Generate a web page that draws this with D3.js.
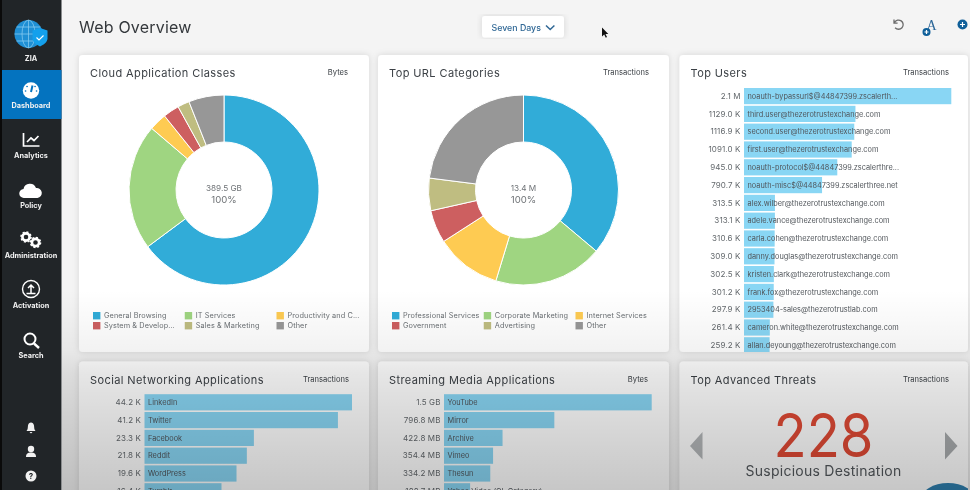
<!DOCTYPE html>
<html><head><meta charset="utf-8">
<script src="https://cdn.jsdelivr.net/npm/d3@7/dist/d3.min.js"></script>
<style>html,body{margin:0;padding:0;background:#f4f4f4;overflow:hidden}svg{display:block;font-family:Inter,"Open Sans",sans-serif;filter:blur(.4px)}</style>
</head><body><svg id="c" width="970" height="490"></svg>
<script>
// ---- data ----
const navItems = ["ZIA","Dashboard","Analytics","Policy","Administration","Activation","Search"];
const donutColors = ["#31acd8","#9fd581","#fecb52","#cd5f60","#bfbd81","#979797"];

const classNames = ["General Browsing","IT Services","Productivity and C...","System & Develop...","Sales & Marketing","Other"];
const classValues = [252.4,83.4,11.7,10.7,7.8,23.4];
const urlNames = ["Professional Services","Corporate Marketing","Internet Services","Government","Advertising","Other"];
const urlValues = [4.84,2.49,1.50,0.75,0.74,3.08];

const userNames = ["noauth-bypassurl$@44847399.zscalerth...","third.user@thezerotrustexchange.com","second.user@thezerotrustexchange.com","first.user@thezerotrustexchange.com","noauth-protocol$@44847399.zscalerthre...","noauth-misc$@44847399.zscalerthree.net","alex.wilber@thezerotrustexchange.com","adele.vance@thezerotrustexchange.com","carla.cohen@thezerotrustexchange.com","danny.douglas@thezerotrustexchange.com","kristen.clark@thezerotrustexchange.com","frank.fox@thezerotrustexchange.com","2953404-sales@thezerotrustlab.com","cameron.white@thezerotrustexchange.com","allan.deyoung@thezerotrustexchange.com"];
const userValues = [2100,1129,1116.9,1091,945,790.7,313.5,313.1,310.6,309,302.5,301.2,297.9,261.4,259.2];
const userLabels = ["2.1 M","1129.0 K","1116.9 K","1091.0 K","945.0 K","790.7 K","313.5 K","313.1 K","310.6 K","309.0 K","302.5 K","301.2 K","297.9 K","261.4 K","259.2 K"];

const socialNames = ["LinkedIn","Twitter","Facebook","Reddit","WordPress","Tumblr"];
const socialValues = [44.2,41.2,23.3,21.8,19.6,16.4];
const socialLabels = ["44.2 K","41.2 K","23.3 K","21.8 K","19.6 K","16.4 K"];

const streamNames = ["YouTube","Mirror","Archive","Vimeo","Thesun","Yahoo Video (GL Category)"];
const streamValues = [1500,796.8,422.8,354.4,334.2,188.7];
const streamLabels = ["1.5 GB","796.8 MB","422.8 MB","354.4 MB","334.2 MB","188.7 MB"];

// ---- setup ----
const svg = d3.select("#c");
const defs = svg.append("defs");
const sh = defs.append("filter").attr("id","sh").attr("x","-5%").attr("y","-5%").attr("width","110%").attr("height","110%");
sh.append("feDropShadow").attr("dx",0).attr("dy",0).attr("stdDeviation",3).attr("flood-color","#000").attr("flood-opacity",.13);
const fade = defs.append("linearGradient").attr("id","fade").attr("x1",0).attr("x2",0).attr("y1",0).attr("y2",1);
[[0,0],[.3,.05],[.42,.1],[.6,.14],[.8,.18],[1,.22]].forEach(([o,a])=>fade.append("stop").attr("offset",o).attr("stop-color","#000").attr("stop-opacity",a));

svg.append("rect").attr("width",970).attr("height",490).attr("fill","#f4f4f4");

function t(g,x,y,s,size,fill,anchor,extra){
  const e = g.append("text").attr("x",x).attr("y",y).attr("font-size",size).attr("fill",fill).attr("text-anchor",anchor||"start").text(s);
  if(extra) Object.entries(extra).forEach(([k,v])=>e.attr(k,v));
  return e;
}

t(svg,79,33,"Web Overview",16,"#34383c","start",{"letter-spacing":".2"});

// time selector
svg.append("rect").attr("x",482).attr("y",16).attr("width",82).attr("height",21.5).attr("rx",3).attr("fill","#fff").attr("filter","url(#sh)");
t(svg,491.5,31,"Seven Days",8.8,"#2f6795","start",{"font-weight":500});
svg.append("path").attr("d","M546 25.5l4.2 4 4.2-4").attr("fill","none").attr("stroke","#2f6795").attr("stroke-width",1.5);
// cursor
svg.append("path").attr("d","M602 27.5v9l2.2-2 1.6 3.2 1.2-.6-1.5-3.2h2.8z").attr("fill","#111");
// top right icons
svg.append("path").attr("d","M894.5 22.5a4.6 4.6 0 1 1 .6 5.2M894 19.6v3.6h3.6").attr("fill","none").attr("stroke","#6b6b6b").attr("stroke-width",1.3);
t(svg,926.5,30,"A",14,"#2a6597","start",{"font-family":"Liberation Serif"});
[[926.5,32,4],[962.5,24.5,5]].forEach(([x,y,r])=>{
  svg.append("circle").attr("cx",x).attr("cy",y).attr("r",r).attr("fill","#0f5f99");
  svg.append("path").attr("d",`M${x-r*.5} ${y}h${r}M${x} ${y-r*.5}v${r}`).attr("stroke","#fff").attr("stroke-width",1.2);
});

// ---- sidebar ----
svg.append("rect").attr("width",61.5).attr("height",490).attr("fill","#212528");
svg.append("rect").attr("width",2).attr("height",490).attr("fill","#0a0a0a");
svg.append("rect").attr("x",2).attr("y",70).attr("width",59.5).attr("height",49).attr("fill","#0473bf");
const navY = [60.5,108,158,208,258,308,358];
navItems.forEach((n,i)=>t(svg,31,navY[i],n,7.3,"#f1f1f1","middle",{"font-weight":700}));
// globe + shield
const gg = svg.append("g");
gg.append("circle").attr("cx",28.5).attr("cy",34).attr("r",14).attr("fill","#1f8fd4");
const gl = gg.append("g").attr("fill","none").attr("stroke","#8fd0f2").attr("stroke-width",.7);
gl.append("ellipse").attr("cx",28.5).attr("cy",34).attr("rx",6.5).attr("ry",14);
gl.append("path").attr("d","M14.5 34h28M16.5 27h24M16.5 41h24M28.5 20v28");
gg.append("path").attr("d","M40 28l7.5 2.5v8c0 3.5-4 6.5-7.5 8-3.5-1.5-7.5-4.5-7.5-8v-8z").attr("fill","#14a0ec");
gg.append("path").attr("d","M36.5 37.5l2.5 2.5 4.5-4.5").attr("fill","none").attr("stroke","#fff").attr("stroke-width",1.2);
// dashboard gauge
svg.append("circle").attr("cx",31).attr("cy",90.5).attr("r",8.2).attr("fill","#fff");
svg.append("path").attr("d","M31 92l1.5-6.5").attr("stroke","#0473bf").attr("stroke-width",2);
svg.append("path").attr("d","M25.5 91h.1M27 86.5h.1M35 86.5h.1M36.5 91h.1").attr("stroke","#0473bf").attr("stroke-width",1.6).attr("stroke-linecap","round");
// analytics
svg.append("path").attr("d","M23.5 133v13h16M27 142l4-4 3 2.5 4.5-4.5").attr("fill","none").attr("stroke","#fff").attr("stroke-width",1.7);
// policy cloud
svg.append("path").attr("d","M24 198a4.5 4.5 0 0 1-.5-9 6.5 6.5 0 0 1 12.5-1 5 5 0 0 1 1.5 10z").attr("fill","#fff");
// gears
[[26,237,5],[35.5,242.5,5]].forEach(([x,y,r])=>{
  svg.append("circle").attr("cx",x).attr("cy",y).attr("r",r*.72).attr("fill","none").attr("stroke","#fff").attr("stroke-width",2.6);
  svg.append("circle").attr("cx",x).attr("cy",y).attr("r",r).attr("fill","none").attr("stroke","#fff").attr("stroke-width",1.6).attr("stroke-dasharray","2 1.9");
});
// activation
svg.append("circle").attr("cx",31).attr("cy",289).attr("r",8.5).attr("fill","none").attr("stroke","#fff").attr("stroke-width",1.4);
svg.append("path").attr("d","M31 293v-7M28 288l3-3 3 3M26.5 293.5h9").attr("fill","none").attr("stroke","#fff").attr("stroke-width",1.5);
// search
svg.append("circle").attr("cx",30).attr("cy",339).attr("r",5.5).attr("fill","none").attr("stroke","#fff").attr("stroke-width",2);
svg.append("path").attr("d","M34 343.5l5 4.5").attr("stroke","#fff").attr("stroke-width",2.4);
// bell, user, help
svg.append("path").attr("d","M26.5 431c1.5-1.5 1.2-3.5 1.5-5.5.3-1.8 1.5-3 3-3s2.7 1.2 3 3c.3 2 0 4 1.5 5.5zM29.5 432h3l-1.5 1.5z").attr("fill","#f1f1f1");
svg.append("circle").attr("cx",31).attr("cy",449).attr("r",3.2).attr("fill","#f1f1f1");
svg.append("path").attr("d","M26 457c0-3.5 2-4.5 5-4.5s5 1 5 4.5z").attr("fill","#f1f1f1");
svg.append("circle").attr("cx",31).attr("cy",476).attr("r",5.5).attr("fill","#f1f1f1");
t(svg,31,479,"?",8,"#212528","middle",{"font-weight":700});

// ---- cards ----
function card(x,y,w,h,title,unit,unitRight){
  const id = "cl"+Math.round(x)+"_"+Math.round(y);
  defs.append("clipPath").attr("id",id).append("rect").attr("x",x).attr("y",y).attr("width",w).attr("height",h).attr("rx",4);
  svg.append("rect").attr("x",x).attr("y",y).attr("width",w).attr("height",h).attr("rx",4).attr("fill","#fff").attr("filter","url(#sh)");
  t(svg,x+11,y+22,title,11,"#3c4146","start",{"letter-spacing":".4"});
  t(svg,unitRight,y+20,unit,7.6,"#3c4146","end");
  return svg.append("g").attr("clip-path",`url(#${id})`);
}

function donut(g,cx,names,values,total,legendX){
  const cy = 190;
  const arcs = d3.pie().sort(null)(values);
  const arc = d3.arc().innerRadius(48).outerRadius(95);
  g.append("g").attr("transform",`translate(${cx},${cy})`).selectAll("path").data(arcs).join("path")
    .attr("d",arc).attr("fill",(d,i)=>donutColors[i]).attr("stroke","#fff").attr("stroke-width",1);
  t(g,cx,cy+1,total,8.2,"#6e7276","middle");
  t(g,cx,cy+13,"100%",9.6,"#6e7276","middle");
  const lx = d3.scalePoint().domain([0,1,2]).range([legendX,legendX+183.5]);
  const ly = d3.scalePoint().domain([0,1]).range([315.7,325.7]);
  names.forEach((n,i)=>{
    const c=i%3, r=Math.floor(i/3);
    g.append("rect").attr("x",lx(c)).attr("y",ly(r)-3.7).attr("width",7.4).attr("height",7.4).attr("fill",donutColors[i]);
    t(g,lx(c)+11,ly(r)+2.7,n,7.3,"#6b7074","start",{"letter-spacing":".1"});
  });
}

function bars(g,x0,x1,y0,step,names,values,labels,domainMax,color){
  const idx = d3.range(names.length);
  const y = d3.scaleBand().domain(idx).range([y0,y0+step*names.length]).paddingInner(.09).paddingOuter(.045);
  const x = d3.scaleLinear().domain([0,domainMax]).range([x0,x1]);
  g.selectAll(null).data(idx).join("rect").attr("x",x0).attr("y",i=>y(i)).attr("width",i=>x(values[i])-x0).attr("height",y.bandwidth()).attr("fill",color);
  idx.forEach(i=>{
    const m = y(i)+y.bandwidth()/2+2.7;
    t(g,x0-3.5,m,labels[i],8,"#63686c","end",{"letter-spacing":".1"});
    t(g,x0+3.5,m,names[i],7.35,"#50555a","start");
  });
}

const c1 = card(79,55,290,297,"Cloud Application Classes","Bytes",348);
donut(c1,224,classNames,classValues,"389.5 GB",93);
const c2 = card(378,55,291,297,"Top URL Categories","Transactions",649);
donut(c2,523.5,urlNames,urlValues,"13.4 M",392);
const c3 = card(679.5,55,288.5,297,"Top Users","Transactions",949);
bars(c3,744,951.3,87.2,17.8,userNames,userValues,userLabels,2100,"#89d6f4");
const c4 = card(79,361.5,290,140,"Social Networking Applications","Transactions",349);
bars(c4,144.5,352,393.4,17.8,socialNames,socialValues,socialLabels,44.2,"#89d6f4");
const c5 = card(378,361.5,291,140,"Streaming Media Applications","Bytes",648);
bars(c5,444,651.7,393.4,17.8,streamNames,streamValues,streamLabels,1500,"#89d6f4");
const c6 = card(679.5,361.5,288.5,140,"Top Advanced Threats","Transactions",949);
t(c6,823.5,456.5,"228",60,"#e04a35","middle",{"textLength":100,"lengthAdjust":"spacingAndGlyphs"});
t(c6,823.5,476,"Suspicious Destination",14,"#53585c","middle",{"letter-spacing":".25"});
c6.append("path").attr("d","M702.5 432l-12.5 14 12.5 13.5z").attr("fill","#b3b6b8");
c6.append("path").attr("d","M945 432l12.5 14-12.5 13.5z").attr("fill","#a8abad");
c6.append("ellipse").attr("cx",948).attr("cy",500).attr("rx",27).attr("ry",17).attr("fill","#2f7fae");

// video fade toward the bottom
svg.append("rect").attr("x",62).attr("y",290).attr("width",908).attr("height",200).attr("fill","url(#fade)");
</script></body></html>
